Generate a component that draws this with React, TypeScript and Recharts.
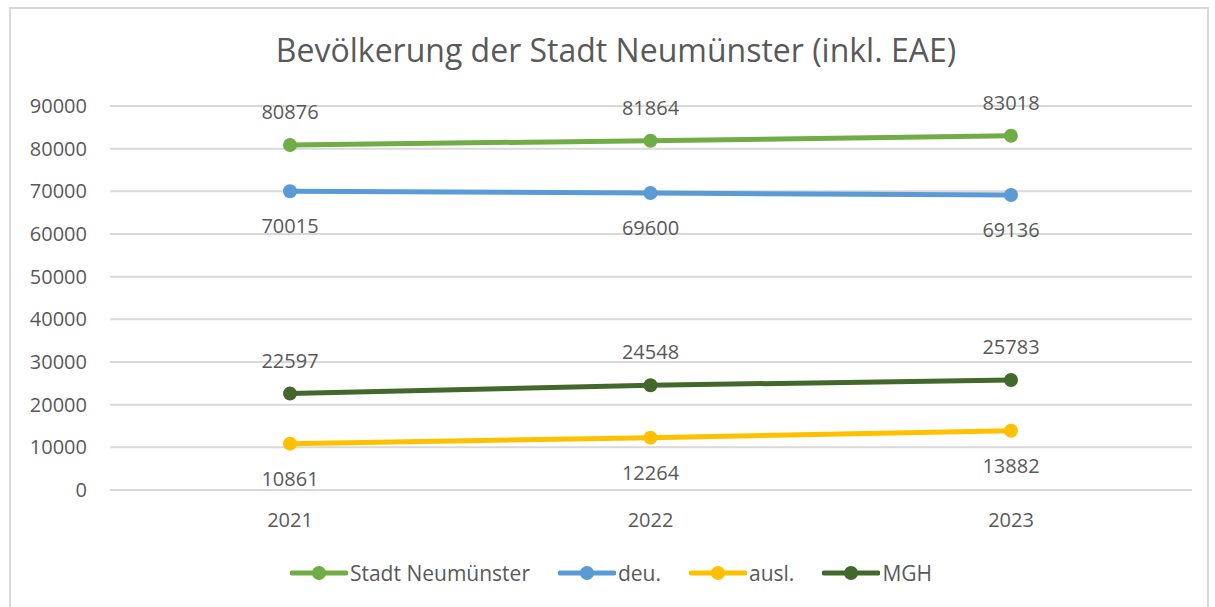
import { LineChart, Line, XAxis, YAxis, CartesianGrid, Legend, LabelList } from "recharts";

const years = ["2021", "2022", "2023"];
const stadt = [80876, 81864, 83018];
const deu = [70015, 69600, 69136];
const ausl = [10861, 12264, 13882];
const mgh = [22597, 24548, 25783];
const yTicks = [0, 10000, 20000, 30000, 40000, 50000, 60000, 70000, 80000, 90000];

const series = [
    { key: "stadt", name: "Stadt Neumünster", color: "#70ad47", labelPos: "top" },
    { key: "deu", name: "deu.", color: "#5b9bd5", labelPos: "bottom" },
    { key: "ausl", name: "ausl.", color: "#ffc000", labelPos: "bottom" },
    { key: "mgh", name: "MGH", color: "#43682b", labelPos: "top" },
];

const data = years.map((y, i) => ({
    year: y,
    stadt: stadt[i],
    deu: deu[i],
    ausl: ausl[i],
    mgh: mgh[i],
}));

const FONT = "'Open Sans', sans-serif";
const TEXT = "#595959";

function LegendContent() {
    return (
        <div style={{ display: "flex", justifyContent: "center", alignItems: "center", fontFamily: FONT, fontSize: 21, color: TEXT, paddingLeft: 30 }}>
            {series.map((s, i) => (
                <div key={s.key} style={{ display: "flex", alignItems: "center", marginRight: i < series.length - 1 ? 28 : 0 }}>
                    <svg width={58} height={16} style={{ marginRight: 2 }}>
                        <line x1={2} y1={8} x2={56} y2={8} stroke={s.color} strokeWidth={5} strokeLinecap="round" />
                        <circle cx={29} cy={8} r={7} fill={s.color} />
                    </svg>
                    <span>{s.name}</span>
                </div>
            ))}
        </div>
    );
}

export default function App() {
    return (
        <div style={{ position: "absolute", left: 0, top: 0, width: 1215, height: 607, background: "#fff", overflow: "hidden" }}>
            <div style={{ position: "absolute", left: 9, top: 7, width: 1200, height: 620, border: "2px solid #d9d9d9", boxSizing: "border-box" }} />
            <div style={{ position: "absolute", left: 0, top: 28, width: 1232, textAlign: "center", fontFamily: FONT, fontSize: 32, color: TEXT }}>
                Bevölkerung der Stadt Neumünster (inkl. EAE)
            </div>
            <LineChart width={1215} height={607} data={data} margin={{ top: 106, right: 23, left: 0, bottom: 49 }}>
                <CartesianGrid vertical={false} stroke="#d9d9d9" strokeWidth={2} />
                <XAxis
                    dataKey="year"
                    height={40}
                    padding={{ left: 180, right: 181 }}
                    axisLine={{ stroke: "#d9d9d9", strokeWidth: 2 }}
                    tickLine={false}
                    tickSize={6}
                    tickMargin={17}
                    tick={{ fill: TEXT, fontSize: 20, fontFamily: FONT }}
                />
                <YAxis
                    width={110}
                    domain={[0, 90000]}
                    ticks={yTicks}
                    axisLine={false}
                    tickLine={false}
                    tickSize={0}
                    tickMargin={23}
                    tick={{ fill: TEXT, fontSize: 20, fontFamily: FONT }}
                />
                <Legend verticalAlign="bottom" content={<LegendContent />} wrapperStyle={{ bottom: 20 }} />
                {series.map((s) => (
                    <Line
                        key={s.key}
                        dataKey={s.key}
                        name={s.name}
                        stroke={s.color}
                        strokeWidth={5}
                        dot={{ r: 7, fill: s.color, stroke: s.color, strokeWidth: 0 }}
                        isAnimationActive={false}
                    >
                        <LabelList
                            dataKey={s.key}
                            position={s.labelPos as any}
                            offset={s.labelPos === "top" ? 26 : 28}
                            fill={TEXT}
                            fontSize={20}
                            fontFamily={FONT}
                        />
                    </Line>
                ))}
            </LineChart>
        </div>
    );
}
